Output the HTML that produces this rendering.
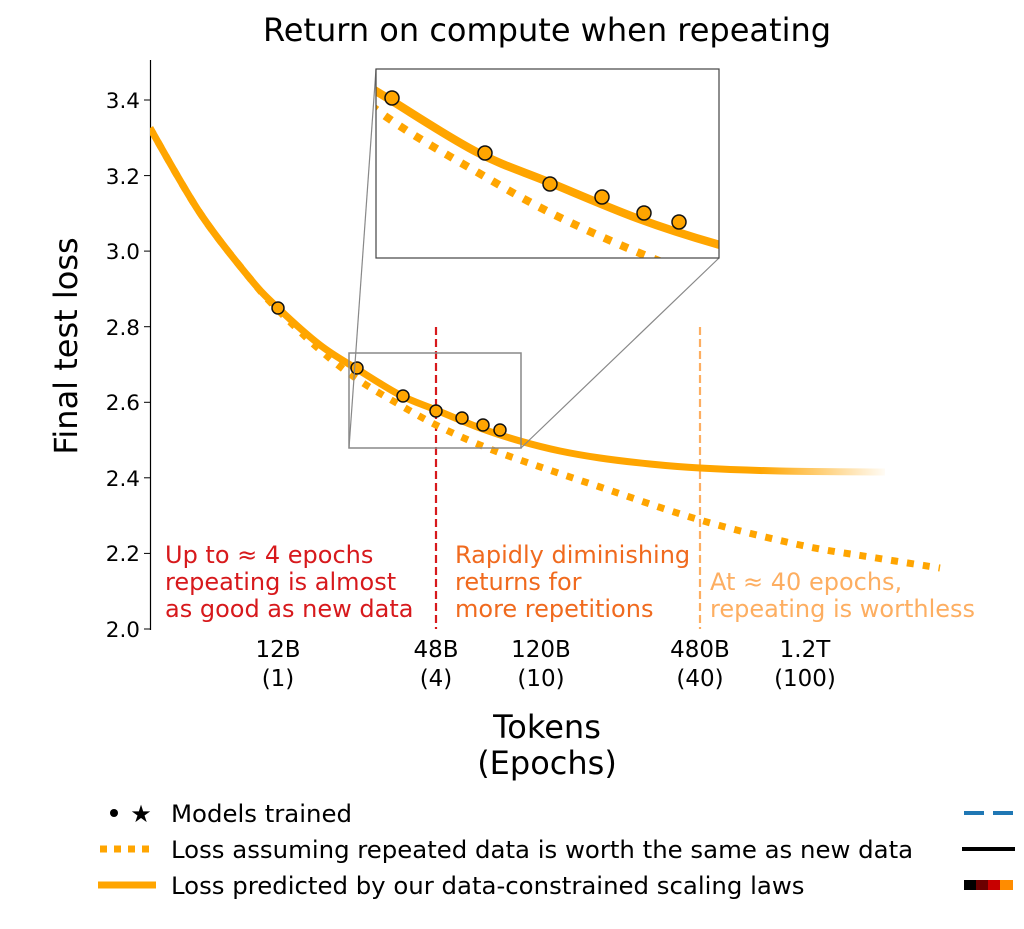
<!DOCTYPE html>
<html><head><meta charset="utf-8"><style>
body{margin:0;background:#fff}
text{font-family:"DejaVu Sans","Liberation Sans",sans-serif}
</style></head><body>
<svg width="1024" height="924" viewBox="0 0 1024 924" xmlns="http://www.w3.org/2000/svg">
<defs>
<linearGradient id="fade" gradientUnits="userSpaceOnUse" x1="760" y1="0" x2="890" y2="0">
<stop offset="0" stop-color="#ffa500" stop-opacity="1"/><stop offset="1" stop-color="#ffa500" stop-opacity="0"/>
</linearGradient>
<clipPath id="plotclip"><rect x="150" y="60" width="800" height="570"/></clipPath>
<clipPath id="insclip"><rect x="349" y="353" width="172" height="95"/></clipPath>
<path id="solid" d=""/>
<path id="dotted" d=""/>
</defs>
<text x="547" y="41" font-size="32" text-anchor="middle">Return on compute when repeating</text>
<text transform="translate(77,346) rotate(-90)" font-size="32" text-anchor="middle">Final test loss</text>
<line x1="150.5" y1="60" x2="150.5" y2="630" stroke="#000" stroke-width="1.2"/>
<g font-size="21.5" text-anchor="end">
<line x1="144" y1="629" x2="150" y2="629" stroke="#000"/><text x="140" y="637">2.0</text>
<line x1="144" y1="553.4" x2="150" y2="553.4" stroke="#000"/><text x="140" y="561">2.2</text>
<line x1="144" y1="477.8" x2="150" y2="477.8" stroke="#000"/><text x="140" y="486">2.4</text>
<line x1="144" y1="402.3" x2="150" y2="402.3" stroke="#000"/><text x="140" y="410">2.6</text>
<line x1="144" y1="326.7" x2="150" y2="326.7" stroke="#000"/><text x="140" y="335">2.8</text>
<line x1="144" y1="251.1" x2="150" y2="251.1" stroke="#000"/><text x="140" y="259">3.0</text>
<line x1="144" y1="175.6" x2="150" y2="175.6" stroke="#000"/><text x="140" y="184">3.2</text>
<line x1="144" y1="100" x2="150" y2="100" stroke="#000"/><text x="140" y="108">3.4</text>
</g>
<g font-size="23" text-anchor="middle">
<text x="278" y="657">12B</text><text x="278" y="686">(1)</text>
<text x="436" y="657">48B</text><text x="436" y="686">(4)</text>
<text x="541" y="657">120B</text><text x="541" y="686">(10)</text>
<text x="700" y="657">480B</text><text x="700" y="686">(40)</text>
<text x="805" y="657">1.2T</text><text x="805" y="686">(100)</text>
</g>
<text x="547" y="738" font-size="32" text-anchor="middle">Tokens</text>
<text x="547" y="774" font-size="32" text-anchor="middle">(Epochs)</text>
<line x1="436" y1="327" x2="436" y2="629" stroke="#d7191c" stroke-width="2.2" stroke-dasharray="8,4"/>
<line x1="700" y1="327" x2="700" y2="629" stroke="#fdae61" stroke-width="2.2" stroke-dasharray="8,4"/>
<g clip-path="url(#plotclip)" fill="none">
<use href="#dotted" stroke="#ffa500" stroke-width="7" stroke-dasharray="7,9"/>
<use href="#solid" stroke="url(#fade)" stroke-width="7"/>
</g>
<g fill="#ffa500" stroke="#111" stroke-width="1.5">
<circle cx="278" cy="308" r="6"/><circle cx="357" cy="368" r="6"/><circle cx="403" cy="396" r="6"/>
<circle cx="436" cy="411" r="6"/><circle cx="462" cy="418" r="6"/><circle cx="483" cy="425" r="6"/><circle cx="500" cy="430" r="6"/>
</g>
<rect x="349" y="353" width="172" height="95" fill="none" stroke="#888" stroke-width="1.5"/>
<line x1="349" y1="448" x2="376" y2="69" stroke="#888" stroke-width="1.2"/>
<line x1="521" y1="448" x2="719" y2="258" stroke="#888" stroke-width="1.2"/>
<rect x="376" y="69" width="343" height="189" fill="#fff"/>
<g transform="translate(376,69) scale(1.994,1.99) translate(-349,-353)">
<g clip-path="url(#insclip)" fill="none">
<use href="#dotted" stroke="#ffa500" stroke-width="4" stroke-dasharray="4,5"/>
<use href="#solid" stroke="#ffa500" stroke-width="4.2"/>
</g>
</g>
<g fill="#ffa500" stroke="#111" stroke-width="1.5">
<circle cx="392" cy="98" r="7"/><circle cx="485" cy="153" r="7"/><circle cx="550" cy="184" r="7"/>
<circle cx="602" cy="197" r="7"/><circle cx="644" cy="213" r="7"/><circle cx="679" cy="222" r="7"/>
</g>
<rect x="376" y="69" width="343" height="189" fill="none" stroke="#444" stroke-width="1.2"/>
<g font-size="24">
<text x="165" y="563" fill="#d7191c">Up to ≈ 4 epochs</text>
<text x="165" y="590" fill="#d7191c">repeating is almost</text>
<text x="165" y="617" fill="#d7191c">as good as new data</text>
<text x="455" y="563" fill="#f06a1e">Rapidly diminishing</text>
<text x="455" y="590" fill="#f06a1e">returns for</text>
<text x="455" y="617" fill="#f06a1e">more repetitions</text>
<text x="710" y="590" fill="#fdae61">At ≈ 40 epochs,</text>
<text x="710" y="617" fill="#fdae61">repeating is worthless</text>
</g>
<g font-size="24.4">
<circle cx="114" cy="813" r="4" fill="#000"/>
<text x="141" y="822" font-size="24" text-anchor="middle">★</text>
<text x="171" y="822">Models trained</text>
<line x1="100" y1="849" x2="156" y2="849" stroke="#ffa500" stroke-width="7" stroke-dasharray="7,7"/>
<text x="171" y="858">Loss assuming repeated data is worth the same as new data</text>
<line x1="98" y1="885" x2="156" y2="885" stroke="#ffa500" stroke-width="7"/>
<text x="171" y="894">Loss predicted by our data-constrained scaling laws</text>
</g>
<line x1="964" y1="813" x2="984" y2="813" stroke="#1f77b4" stroke-width="4"/>
<line x1="993" y1="813" x2="1013" y2="813" stroke="#1f77b4" stroke-width="4"/>
<line x1="962" y1="849" x2="1015" y2="849" stroke="#000" stroke-width="4"/>
<rect x="964" y="880" width="12" height="10" fill="#000"/>
<rect x="976" y="880" width="12" height="10" fill="#6b0000"/>
<rect x="988" y="880" width="12" height="10" fill="#c80000"/>
<rect x="1000" y="880" width="13" height="10" fill="#ff8c00"/>
</svg>
<script>
function cr(p){var d="M"+p[0][0]+","+p[0][1];for(var i=0;i<p.length-1;i++){var a=p[i-1]||p[i],b=p[i],c=p[i+1],e=p[i+2]||c;
d+=" C"+(b[0]+(c[0]-a[0])/6).toFixed(1)+","+(b[1]+(c[1]-a[1])/6).toFixed(1)+" "+(c[0]-(e[0]-b[0])/6).toFixed(1)+","+(c[1]-(e[1]-b[1])/6).toFixed(1)+" "+c[0]+","+c[1];}return d;}
var s=[[150,128],[200,213],[250,278.5],[278,308],[320,345],[357,369],[400,395],[436,410],[480,428],[520,441],[560,451],[600,458],[650,464],[700,468],[780,471],[885,472]];
var t=[[150,128],[200,213],[250,278.5],[278,310],[320,350],[357,379],[400,405],[436,425],[480,445],[520,460],[600,487],[700,520],[800,545],[870,557],[940,568]];
document.getElementById("solid").setAttribute("d",cr(s));
document.getElementById("dotted").setAttribute("d",cr(t));
</script>
</body></html>
